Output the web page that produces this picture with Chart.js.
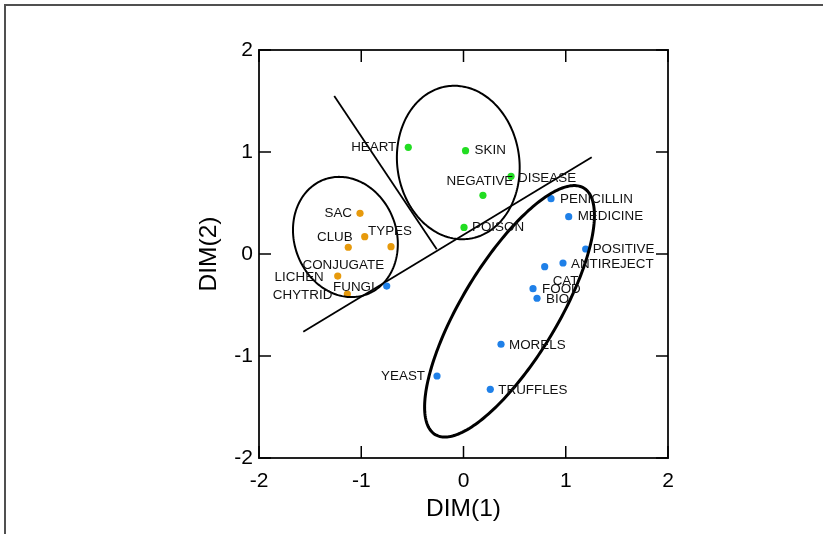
<!DOCTYPE html>
<html><head><meta charset="utf-8">
<script src="https://cdn.jsdelivr.net/npm/chart.js@4.4.1/dist/chart.umd.min.js"></script>
<style>
html,body{margin:0;padding:0;background:#fff;}
#wrap{position:relative;width:823px;height:534px;overflow:hidden;background:#fff;}
#frame{position:absolute;left:4px;top:4px;width:900px;height:600px;border-top:2px solid #505050;border-left:2px solid #505050;pointer-events:none;}
canvas{display:block;}
</style></head><body>
<div id="wrap"><canvas id="c" width="823" height="534"></canvas><div id="frame"></div></div>
<script>
// ---- data ----
const greenNames = ['HEART','SKIN','DISEASE','NEGATIVE','POISON'];
const greenX = [-0.54, 0.02, 0.465, 0.19, 0.005];
const greenY = [1.046, 1.013, 0.762, 0.575, 0.261];

const orangeNames = ['SAC','CLUB','TYPES','CONJUGATE','LICHEN','CHYTRID'];
const orangeX = [-1.012, -0.966, -0.709, -1.127, -1.23, -1.136];
const orangeY = [0.399, 0.17, 0.072, 0.066, -0.216, -0.392];

const blueNames = ['PENICILLIN','MEDICINE','POSITIVE','CAT','ANTIREJECT','FOOD','BIO','MORELS','YEAST','TRUFFLES','FUNGI'];
const blueX = [0.856, 1.029, 1.195, 0.794, 0.973, 0.68, 0.719, 0.367, -0.259, 0.262, -0.751];
const blueY = [0.542, 0.366, 0.049, -0.124, -0.088, -0.34, -0.434, -0.885, -1.196, -1.327, -0.314];

// separating lines (endpoints in data units)
const lineAX = [-1.264, -0.262];
const lineAY = [1.549, 0.046];
const lineBX = [-1.567, 1.254];
const lineBY = [-0.762, 0.948];

// enclosing ellipses (center, semi-axes, rotation deg) in data units
const ellipseCX = [-1.155, -0.051, 0.45];
const ellipseCY = [0.167, 0.897, -0.562];
const ellipseA = [0.6, 0.755, 1.41];
const ellipseB = [0.5, 0.597, 0.47];
const ellipseRot = [110, 98, 59];

const tickValues = [-2, -1, 0, 1, 2];
const tickLabels = ['-2', '-1', '0', '1', '2'];

// ---- styling / placement ----
const FONT = '"Liberation Sans", Arial, Helvetica, sans-serif';
const labelPlacement = {
  HEART:['right',-12,0], SKIN:['left',9,0], DISEASE:['left',7,2], NEGATIVE:['center',-3,-14], POISON:['left',8,0],
  SAC:['right',-8,0], CLUB:['right',-12,1], TYPES:['center',-1,-15], CONJUGATE:['center',-5,18],
  LICHEN:['right',-14,1], CHYTRID:['right',-15,1], FUNGI:['right',-12,1],
  PENICILLIN:['left',9,1], MEDICINE:['left',9,0], POSITIVE:['left',7,0], CAT:['left',8,15],
  ANTIREJECT:['left',8,1], FOOD:['left',9,1], BIO:['left',9,1], MORELS:['left',8,1],
  YEAST:['right',-12,0], TRUFFLES:['left',8,1]
};
const ellipseWidths = [2, 2, 3];

function pts(xs, ys){ return xs.map((x,i)=>({x:x, y:ys[i]})); }

const decor = {
  id:'decor',
  afterDatasetsDraw(chart){
    const ctx = chart.ctx, a = chart.chartArea, sx = chart.scales.x, sy = chart.scales.y;
    ctx.save();
    // ellipses
    ctx.strokeStyle = '#000';
    for (let k=0;k<ellipseCX.length;k++){
      const th = ellipseRot[k]*Math.PI/180, ca=Math.cos(th), sa=Math.sin(th);
      ctx.lineWidth = ellipseWidths[k];
      ctx.beginPath();
      for (let i=0;i<=240;i++){
        const t = i/240*2*Math.PI;
        const dx = ellipseA[k]*Math.cos(t), dy = ellipseB[k]*Math.sin(t);
        const X = ellipseCX[k] + dx*ca - dy*sa, Y = ellipseCY[k] + dx*sa + dy*ca;
        const px = sx.getPixelForValue(X), py = sy.getPixelForValue(Y);
        if (i===0) ctx.moveTo(px,py); else ctx.lineTo(px,py);
      }
      ctx.closePath();
      ctx.stroke();
    }
    // point labels
    ctx.fillStyle = '#111';
    ctx.font = '13.4px ' + FONT;
    ctx.textBaseline = 'middle';
    chart.data.datasets.forEach((ds)=>{
      if (!ds.names) return;
      ds.data.forEach((p,i)=>{
        const nm = ds.names[i], pl = labelPlacement[nm] || ['left',8,0];
        ctx.textAlign = pl[0];
        ctx.fillText(nm, sx.getPixelForValue(p.x)+pl[1], sy.getPixelForValue(p.y)+pl[2]);
      });
    });
    // frame
    ctx.strokeStyle = '#222';
    ctx.lineWidth = 2;
    ctx.strokeRect(a.left, a.top, a.right-a.left, a.bottom-a.top);
    // inside ticks on all four sides
    const TL = 12;
    ctx.lineWidth = 1.5;
    ctx.strokeStyle = '#000';
    ctx.beginPath();
    tickValues.forEach(v=>{
      const px = sx.getPixelForValue(v), py = sy.getPixelForValue(v);
      ctx.moveTo(px, a.bottom); ctx.lineTo(px, a.bottom-TL);
      ctx.moveTo(px, a.top); ctx.lineTo(px, a.top+TL);
      ctx.moveTo(a.left, py); ctx.lineTo(a.left+TL, py);
      ctx.moveTo(a.right, py); ctx.lineTo(a.right-TL, py);
    });
    ctx.stroke();
    ctx.restore();
  }
};

const tickCb = function(v){ const i = tickValues.indexOf(v); return i>=0 ? tickLabels[i] : ''; };

new Chart(document.getElementById('c'), {
  type:'scatter',
  data:{ datasets:[
    {label:'g', names:greenNames, data:pts(greenX,greenY), backgroundColor:'#22dd22', borderColor:'#22dd22', pointRadius:3.6, borderWidth:0},
    {label:'o', names:orangeNames, data:pts(orangeX,orangeY), backgroundColor:'#e79a0c', borderColor:'#e79a0c', pointRadius:3.6, borderWidth:0},
    {label:'b', names:blueNames, data:pts(blueX,blueY), backgroundColor:'#1f80e8', borderColor:'#1f80e8', pointRadius:3.6, borderWidth:0},
    {label:'l1', data:pts(lineAX,lineAY), showLine:true, borderColor:'#000', borderWidth:1.8, pointRadius:0, fill:false},
    {label:'l2', data:pts(lineBX,lineBY), showLine:true, borderColor:'#000', borderWidth:1.8, pointRadius:0, fill:false}
  ]},
  options:{
    responsive:false, animation:false, devicePixelRatio:1,
    layout:{ padding:{left:195, top:50, right:155, bottom:10} },
    plugins:{ legend:{display:false}, tooltip:{enabled:false} },
    scales:{
      x:{ type:'linear', min:-2, max:2,
          afterBuildTicks:(s)=>{ s.ticks = tickValues.map(v=>({value:v})); },
          ticks:{ callback:tickCb, font:{size:21, family:FONT}, color:'#000', padding:11, maxRotation:0, autoSkip:false },
          grid:{ display:false, drawTicks:false }, border:{display:false},
          title:{ display:true, text:'DIM(1)', font:{size:24.5, family:FONT}, color:'#000', padding:0 },
          afterFit:(s)=>{ s.height = 66; } },
      y:{ type:'linear', min:-2, max:2,
          afterBuildTicks:(s)=>{ s.ticks = tickValues.map(v=>({value:v})); },
          ticks:{ callback:tickCb, font:{size:21, family:FONT}, color:'#000', padding:6, autoSkip:false },
          grid:{ display:false, drawTicks:false }, border:{display:false},
          title:{ display:true, text:'DIM(2)', font:{size:24.5, family:FONT}, color:'#000', padding:0 },
          afterFit:(s)=>{ s.width = 64; } }
    }
  },
  plugins:[decor]
});
</script>
</body></html>
